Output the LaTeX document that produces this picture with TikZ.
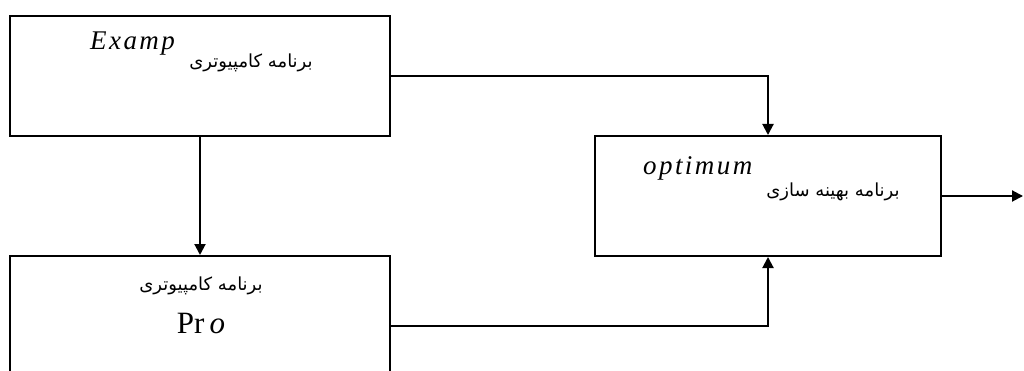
\documentclass[tikz,border=0pt]{standalone}
\usepackage{fontspec}
\usepackage{tikz}
\usetikzlibrary{arrows.meta}
\setmainfont{Liberation Serif}
\newfontfamily\farsi[Script=Arabic]{DejaVu Sans}
\newfontfamily\eqit[LetterSpace=9]{Liberation Serif Italic}
\TeXXeTstate=1
\tikzset{
    block/.style={draw, line width=2pt, inner sep=0pt},
    flow/.style={draw, line width=2pt, -{Triangle[length=11pt,width=11pt]}},
    fatext/.style={font=\farsi\fontsize{18}{20}\selectfont, inner sep=0pt, anchor=base},
    entext/.style={font=\eqit\fontsize{27}{30}\selectfont, inner sep=0pt, anchor=base west},
}

\begin{document}
\begin{tikzpicture}[x=1pt, y=-1pt]
            \useasboundingbox (0,0) rectangle (1024,371);
            \node[block, minimum width=380pt, minimum height=120pt] (examp) at (200,76) {};
            \node[block, minimum width=380pt, minimum height=140pt] (pro) at (200,326) {};
            \node[block, minimum width=346pt, minimum height=120pt] (optim) at (768,196) {};
            \coordinate (out) at (1023,196);
            \coordinate (ac) at (768,76);
            \coordinate (bc) at (768,326);

            \node[entext] (exampname) at (90,50) {Examp};
            \node[fatext] (examplabel) at (251,68) {\beginR برنامه کامپیوتری\endR};
            \node[fatext] (prolabel) at (201,290) {\beginR برنامه کامپیوتری\endR};
            \node[inner sep=0pt, anchor=base, font=\fontsize{31}{34}\selectfont] (proname) at (201,333) {Pr\,\textit{o}};
            \node[entext] (optimname) at (643,175) {optimum};
            \node[fatext] (optimlabel) at (833,197) {\beginR برنامه بهینه سازی\endR};

            \path[flow] (examp.east) -- (ac) -- (optim.north);
            \path[flow] (examp.south) -- (pro.north);
            \path[flow] (pro.east) -- (bc) -- (optim.south);
            \path[flow] (optim.east) -- (out);
        \end{tikzpicture}
\end{document}
